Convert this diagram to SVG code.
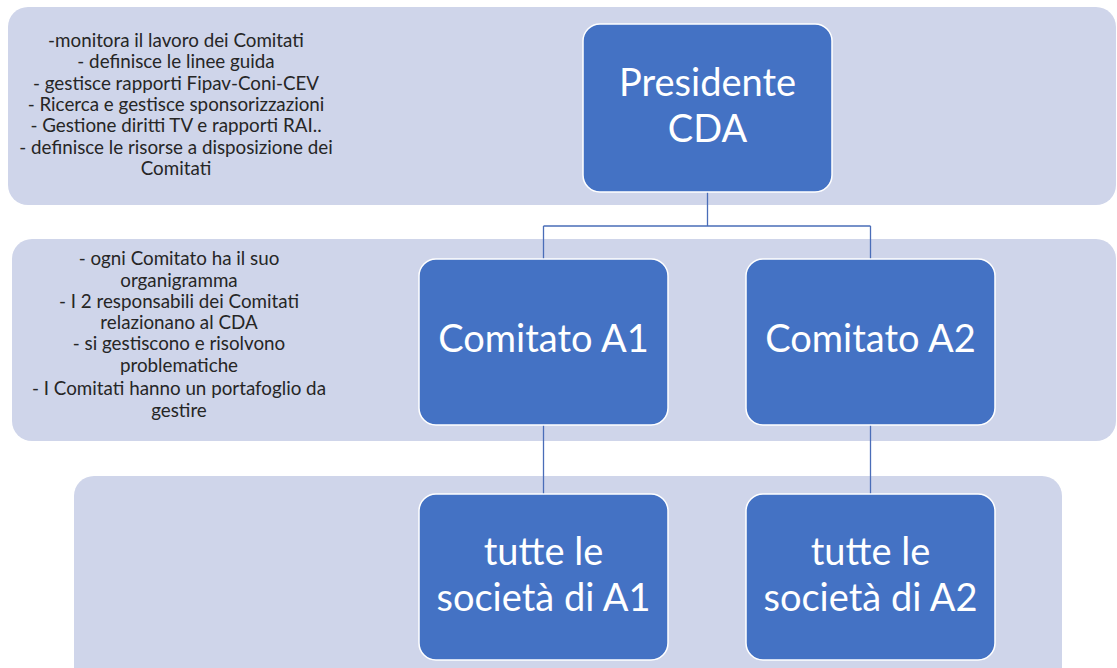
<svg xmlns="http://www.w3.org/2000/svg" width="1117" height="668" viewBox="0 0 1117 668">
<style>
.band{fill:#CFD5EA;}
.box{fill:#4472C4;stroke:#FFFFFF;stroke-width:1.5;}
.btxt{font-family:Lato,"Liberation Sans",sans-serif;font-size:38px;fill:#FFFFFF;text-anchor:middle;}
.note{font-family:Lato,"Liberation Sans",sans-serif;font-size:18.8px;fill:#262626;text-anchor:middle;}
.conn{fill:none;stroke:#4A6DB8;stroke-width:1.3;}
</style>
<rect width="1117" height="668" fill="#FFFFFF"/>
<g id="bands">
<rect class="band" x="8" y="7" width="1108" height="198" rx="20"/>
<rect class="band" x="12" y="239" width="1104" height="202" rx="20"/>
<rect class="band" x="74" y="476" width="988" height="220" rx="20"/>
</g>
<g id="notes-top">
<text class="note" x="176" y="47">-monitora il lavoro dei Comitati</text>
<text class="note" x="176" y="68">- definisce le linee guida</text>
<text class="note" x="176" y="90">- gestisce rapporti Fipav-Coni-CEV</text>
<text class="note" x="176" y="111">- Ricerca e gestisce sponsorizzazioni</text>
<text class="note" x="176" y="132">- Gestione diritti TV e rapporti RAI..</text>
<text class="note" x="176" y="154">- definisce le risorse a disposizione dei</text>
<text class="note" x="176" y="175">Comitati</text>
</g>
<g id="notes-mid">
<text class="note" x="179" y="265">- ogni Comitato ha il suo</text>
<text class="note" x="179" y="286.5">organigramma</text>
<text class="note" x="179" y="307.5">- I 2 responsabili dei Comitati</text>
<text class="note" x="179" y="329">relazionano al CDA</text>
<text class="note" x="179" y="350">- si gestiscono e risolvono</text>
<text class="note" x="179" y="371.5">problematiche</text>
<text class="note" x="179" y="395">- I Comitati hanno  un portafoglio da</text>
<text class="note" x="179" y="416.5">gestire</text>
</g>
<g id="connectors">
<path class="conn" d="M707.5 192 V226 M543.5 226 H870.5 M543.5 226 V259 M870.5 226 V259"/>
<path class="conn" d="M543.5 425 V494"/>
<path class="conn" d="M870.5 425 V494"/>
</g>
<g id="presidente">
<rect class="box" x="583" y="24" width="249" height="168" rx="17"/>
<text class="btxt" x="707.5" y="96">Presidente</text>
<text class="btxt" x="707.5" y="141.5">CDA</text>
</g>
<g id="comitato-a1">
<rect class="box" x="419" y="259" width="249" height="166" rx="17"/>
<text class="btxt" x="543.5" y="352">Comitato A1</text>
</g>
<g id="comitato-a2">
<rect class="box" x="746" y="259" width="249" height="166" rx="17"/>
<text class="btxt" x="870.5" y="352">Comitato A2</text>
</g>
<g id="societa-a1">
<rect class="box" x="419" y="494" width="249" height="166" rx="17"/>
<text class="btxt" x="543.5" y="565">tutte le</text>
<text class="btxt" x="543.5" y="610.5">società di A1</text>
</g>
<g id="societa-a2">
<rect class="box" x="746" y="494" width="249" height="166" rx="17"/>
<text class="btxt" x="870.5" y="565">tutte le</text>
<text class="btxt" x="870.5" y="610.5">società di A2</text>
</g>
</svg>
